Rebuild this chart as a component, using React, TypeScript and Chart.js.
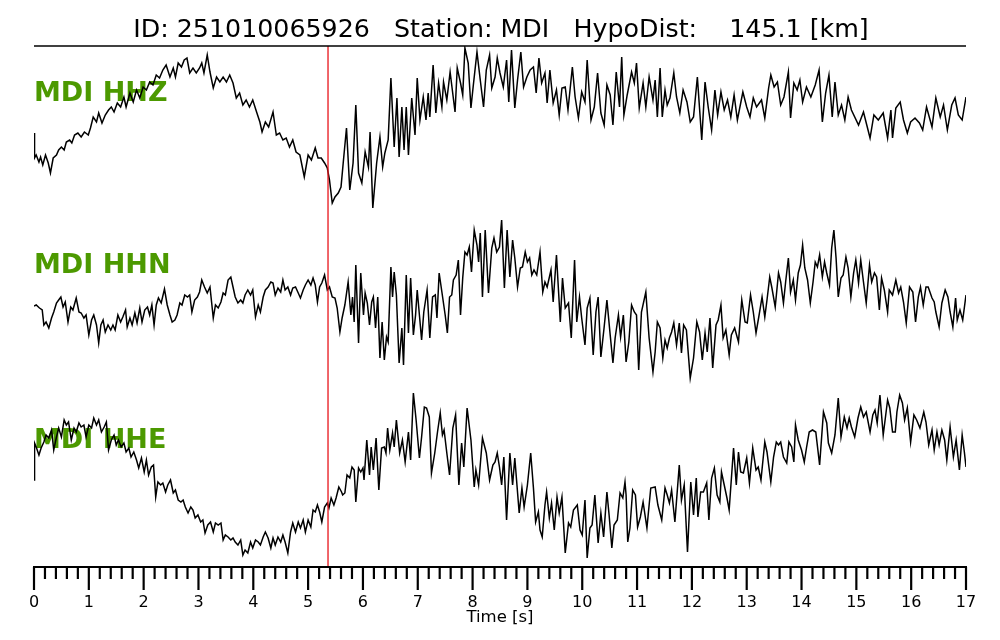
import React, { useEffect, useRef } from "react";
import { Chart, registerables } from "chart.js";

Chart.register(...registerables);

// ---------- Text / meta ----------
const TITLE = "ID: 251010065926   Station: MDI   HypoDist:    145.1 [km]";
const X_TITLE = "Time [s]";
const CHANNELS = ["MDI HHZ", "MDI HHN", "MDI HHE"];
const CHANNEL_OFFSETS = [439, 267, 92];
const PICK_TIME = 5.363;
const X_MIN = 0;
const X_MAX = 17;
const Y_MIN = 0;
const Y_MAX = 521;
const MAJOR_TICKS = [0, 1, 2, 3, 4, 5, 6, 7, 8, 9, 10, 11, 12, 13, 14, 15, 16, 17];
const MINOR_PER_MAJOR = 5;

// ---------- HHZ ----------
const hhzTime = [
  0.00, 0.01, 0.04, 0.09, 0.12, 0.16, 0.21, 0.26, 0.30, 0.35, 0.41, 0.45, 0.50, 0.55, 0.59, 0.65, 0.69, 0.74, 0.80, 0.86,
  0.92, 0.99, 1.03, 1.08, 1.14, 1.18, 1.24, 1.30, 1.36, 1.41, 1.46, 1.52, 1.58, 1.64, 1.68, 1.75, 1.81, 1.87, 1.93, 1.99,
  2.05, 2.11, 2.17, 2.23, 2.29, 2.35, 2.41, 2.48, 2.54, 2.58, 2.63, 2.69, 2.74, 2.79, 2.84, 2.90, 2.96, 3.02, 3.06, 3.10,
  3.16, 3.21, 3.27, 3.33, 3.39, 3.45, 3.51, 3.57, 3.63, 3.69, 3.75, 3.81, 3.87, 3.93, 3.99, 4.06, 4.12, 4.16, 4.22, 4.28,
  4.36, 4.42, 4.48, 4.54, 4.60, 4.66, 4.72, 4.78, 4.85, 4.93, 5.00, 5.06, 5.13, 5.18, 5.24, 5.30, 5.35, 5.39, 5.44, 5.49,
  5.55, 5.60, 5.64, 5.70, 5.76, 5.82, 5.87, 5.92, 5.98, 6.04, 6.10, 6.13, 6.18, 6.25, 6.31, 6.36, 6.40, 6.46, 6.51, 6.57,
  6.62, 6.66, 6.71, 6.75, 6.79, 6.83, 6.89, 6.95, 6.99, 7.04, 7.10, 7.15, 7.19, 7.22, 7.28, 7.33, 7.38, 7.44, 7.47, 7.53,
  7.59, 7.68, 7.72, 7.78, 7.82, 7.86, 7.92, 7.97, 8.01, 8.08, 8.14, 8.20, 8.25, 8.31, 8.35, 8.41, 8.45, 8.50, 8.56, 8.62,
  8.66, 8.71, 8.77, 8.82, 8.88, 8.93, 8.99, 9.05, 9.11, 9.16, 9.21, 9.26, 9.32, 9.36, 9.41, 9.47, 9.53, 9.58, 9.63, 9.69,
  9.74, 9.82, 9.87, 9.93, 9.99, 10.05, 10.09, 10.16, 10.22, 10.28, 10.34, 10.40, 10.45, 10.51, 10.56, 10.62, 10.68, 10.72, 10.76, 10.82,
  10.90, 10.95, 10.99, 11.04, 11.11, 11.16, 11.22, 11.29, 11.33, 11.37, 11.42, 11.46, 11.51, 11.55, 11.60, 11.67, 11.72, 11.78, 11.84, 11.91,
  11.97, 12.03, 12.10, 12.18, 12.24, 12.30, 12.36, 12.42, 12.47, 12.53, 12.59, 12.65, 12.71, 12.77, 12.83, 12.93, 13.00, 13.06, 13.12, 13.18,
  13.27, 13.33, 13.40, 13.44, 13.50, 13.56, 13.62, 13.68, 13.76, 13.80, 13.86, 13.92, 13.97, 14.02, 14.09, 14.17, 14.25, 14.32, 14.38, 14.44,
  14.50, 14.56, 14.61, 14.67, 14.73, 14.79, 14.85, 14.91, 15.04, 15.13, 15.25, 15.32, 15.40, 15.49, 15.57, 15.63, 15.66, 15.72, 15.80, 15.86,
  15.93, 15.99, 16.07, 16.15, 16.21, 16.28, 16.38, 16.45, 16.53, 16.59, 16.66, 16.74, 16.80, 16.86, 16.93, 17.00,
];
const hhzAmp = [
  -5, -30, -27, -34, -29, -37, -27, -35, -45, -30, -27, -22, -19, -22, -14, -12, -15, -7, -5, -9,
  -4, -7, 0, 11, 6, 15, 5, 13, 18, 21, 16, 25, 21, 31, 21, 35, 26, 38, 30, 41,
  38, 46, 43, 53, 50, 58, 63, 51, 60, 51, 65, 61, 68, 70, 55, 60, 55, 60, 65, 55,
  73, 56, 40, 51, 46, 51, 46, 53, 45, 30, 35, 23, 28, 21, 28, 16, 6, -4, 6, 1,
  16, -7, -5, -12, -10, -19, -12, -24, -27, -49, -27, -32, -20, -30, -30, -35, -40, -52, -75, -69,
  -65, -59, -35, 0, -62, -35, 23, -45, -55, -24, -39, -4, -80, -35, -9, -39, -25, -12, 50, -19,
  30, -29, 21, -22, 21, -27, 30, -7, 50, 8, 31, 8, 35, 11, 63, 15, 45, 21, 46, 28,
  56, 16, 60, 45, 33, 80, 65, 20, 41, 76, 48, 21, 58, 73, 40, 51, 70, 55, 41, 68,
  26, 78, 20, 48, 76, 41, 51, 58, 61, 35, 70, 45, 55, 25, 58, 25, 38, 13, 40, 41,
  18, 61, 31, 10, 36, 26, 68, 8, 21, 55, 15, 3, 43, 33, 3, 56, 21, 71, 13, 33,
  56, 45, 65, 20, 45, 21, 51, 28, 48, 11, 60, 11, 38, 23, 30, 55, 31, 15, 38, 26,
  6, 11, 51, -12, 46, 20, -2, 38, 13, 36, 18, 28, 11, 33, 8, 36, 21, 11, 30, 21,
  28, 10, 40, 53, 41, 46, 23, 31, 56, 10, 45, 38, 48, 26, 41, 31, 43, 58, 6, 35,
  53, 11, 46, 13, 23, 8, 31, 18, 3, 16, -10, 13, 8, 15, -10, 18, -10, 20, 26, 8,
  -5, 6, 10, 5, -2, 21, 1, 30, 11, 23, -2, 23, 30, 13, 8, 31,
];

// ---------- HHN ----------
const hhnTime = [
  0.00, 0.04, 0.10, 0.15, 0.18, 0.22, 0.27, 0.32, 0.36, 0.41, 0.45, 0.49, 0.53, 0.57, 0.62, 0.67, 0.71, 0.77, 0.82, 0.86,
  0.91, 0.95, 1.00, 1.05, 1.09, 1.14, 1.18, 1.22, 1.26, 1.30, 1.35, 1.40, 1.44, 1.48, 1.53, 1.58, 1.62, 1.67, 1.70, 1.75,
  1.79, 1.84, 1.88, 1.93, 1.97, 2.02, 2.07, 2.11, 2.15, 2.19, 2.23, 2.27, 2.32, 2.38, 2.43, 2.48, 2.52, 2.57, 2.61, 2.66,
  2.70, 2.75, 2.80, 2.84, 2.88, 2.93, 2.98, 3.02, 3.06, 3.11, 3.16, 3.21, 3.27, 3.31, 3.36, 3.41, 3.45, 3.49, 3.54, 3.59,
  3.63, 3.67, 3.72, 3.77, 3.81, 3.85, 3.90, 3.95, 3.99, 4.04, 4.09, 4.13, 4.18, 4.22, 4.27, 4.32, 4.36, 4.40, 4.45, 4.50,
  4.54, 4.58, 4.63, 4.68, 4.72, 4.77, 4.82, 4.86, 4.91, 4.95, 5.00, 5.05, 5.09, 5.13, 5.17, 5.21, 5.25, 5.30, 5.35, 5.39,
  5.44, 5.49, 5.53, 5.58, 5.62, 5.67, 5.73, 5.78, 5.81, 5.84, 5.87, 5.92, 5.96, 6.01, 6.04, 6.08, 6.12, 6.16, 6.19, 6.23,
  6.27, 6.31, 6.35, 6.39, 6.43, 6.46, 6.51, 6.54, 6.57, 6.61, 6.66, 6.71, 6.74, 6.79, 6.83, 6.87, 6.92, 6.96, 6.99, 7.03,
  7.07, 7.11, 7.17, 7.22, 7.27, 7.32, 7.35, 7.39, 7.44, 7.50, 7.54, 7.58, 7.62, 7.65, 7.70, 7.74, 7.78, 7.82, 7.86, 7.90,
  7.94, 7.98, 8.03, 8.08, 8.11, 8.14, 8.18, 8.23, 8.29, 8.35, 8.39, 8.44, 8.49, 8.53, 8.58, 8.63, 8.68, 8.73, 8.77, 8.82,
  8.87, 8.91, 8.96, 9.00, 9.04, 9.08, 9.12, 9.17, 9.23, 9.28, 9.32, 9.36, 9.43, 9.47, 9.53, 9.60, 9.64, 9.69, 9.75, 9.80,
  9.86, 9.90, 9.95, 9.99, 10.05, 10.09, 10.14, 10.20, 10.25, 10.29, 10.34, 10.40, 10.45, 10.51, 10.56, 10.60, 10.66, 10.70, 10.75, 10.80,
  10.85, 10.90, 10.95, 10.99, 11.03, 11.08, 11.16, 11.22, 11.29, 11.33, 11.37, 11.42, 11.47, 11.51, 11.55, 11.59, 11.63, 11.67, 11.72, 11.77,
  11.81, 11.85, 11.90, 11.97, 12.03, 12.09, 12.14, 12.19, 12.24, 12.28, 12.33, 12.38, 12.44, 12.48, 12.53, 12.57, 12.62, 12.68, 12.72, 12.78,
  12.85, 12.91, 12.97, 13.01, 13.07, 13.12, 13.17, 13.22, 13.28, 13.33, 13.37, 13.42, 13.46, 13.52, 13.58, 13.62, 13.67, 13.71, 13.76, 13.80,
  13.85, 13.89, 13.94, 13.98, 14.02, 14.06, 14.11, 14.16, 14.21, 14.25, 14.29, 14.33, 14.38, 14.42, 14.46, 14.51, 14.55, 14.59, 14.63, 14.67,
  14.72, 14.76, 14.81, 14.85, 14.90, 14.95, 14.99, 15.04, 15.08, 15.13, 15.18, 15.24, 15.28, 15.33, 15.37, 15.42, 15.46, 15.51, 15.57, 15.60,
  15.66, 15.72, 15.77, 15.81, 15.86, 15.91, 15.97, 16.03, 16.08, 16.13, 16.17, 16.22, 16.27, 16.31, 16.38, 16.42, 16.45, 16.51, 16.56, 16.62,
  16.67, 16.71, 16.76, 16.81, 16.84, 16.89, 16.94, 17.00,
];
const hhnAmp = [
  -6, -5, -8, -10, -25, -22, -28, -18, -12, -3, 0, 3, -7, -2, -22, -7, -10, 2, -12, -13,
  -18, -15, -35, -20, -15, -25, -43, -25, -20, -32, -25, -30, -25, -30, -15, -22, -17, -10, -27, -18,
  -25, -13, -23, -8, -22, -10, -7, -15, -5, -25, -5, 2, -3, 11, -5, -15, -22, -20, -15, -3,
  -5, 5, 3, 5, -12, 0, 3, 8, 20, 13, 7, 13, -18, -5, -8, -2, 7, 5, 20, 23,
  13, 3, -3, 0, -3, 5, 10, 5, 10, -17, -5, -12, 3, 10, 13, 18, 17, 5, 12, 8,
  20, 10, 13, 5, 12, 13, 7, 2, 10, 15, 20, 15, 22, 15, -2, 13, 17, 25, 10, 13,
  3, 2, -8, -32, -18, -5, 18, -15, 3, -22, 35, -43, 27, -15, 7, -3, -25, -2, 3, -28,
  3, -58, -22, -60, -37, -42, 33, 3, 28, 5, -63, -28, -65, 25, -33, 22, -35, -15, 10, -15,
  -40, -12, 10, -38, 3, 5, -18, 27, 8, -15, -33, 3, 5, 20, 25, 40, -15, 22, 48, 45,
  53, 28, 70, 55, 38, 67, 3, 70, 7, 52, 62, 48, 53, 80, 12, 70, 23, 60, 42, 13,
  32, 33, 48, 38, 42, 25, 30, 25, 48, 8, 18, 13, 30, -2, 45, -22, 22, -8, -3, -38,
  40, -22, 3, -18, -45, -8, 2, -55, -12, 3, -57, -27, 0, -35, -63, -38, -15, -37, -15, -62,
  -42, -5, -12, -15, -70, -12, 8, -38, -72, -52, -22, -28, -58, -40, -48, -38, -32, -23, -45, -23,
  -53, -25, -30, -78, -58, -22, -32, -60, -33, -52, -18, -68, -25, -20, -5, -38, -30, -55, -35, -28,
  -42, 0, -22, -23, 5, -12, -33, -17, 3, -17, 0, 23, 12, -7, 27, 18, -3, 18, 42, 8,
  20, 0, 27, 35, 55, 32, 20, -3, 18, 38, 33, 45, 23, 38, 27, 15, 52, 70, 42, 3,
  22, 25, 43, 32, 3, 27, 40, 17, 40, 18, -3, 35, 18, 27, 23, -10, 22, 10, -12, 10,
  5, 20, 7, 13, -2, -23, 13, 8, -22, 3, 13, -5, 13, 13, 2, -2, -12, -27, -3, 10,
  3, -12, -27, 2, -20, -10, -20, 5,
];

// ---------- HHE ----------
const hheTime = [
  0.00, 0.01, 0.04, 0.09, 0.13, 0.18, 0.22, 0.27, 0.32, 0.36, 0.41, 0.45, 0.50, 0.55, 0.59, 0.63, 0.68, 0.73, 0.77, 0.82,
  0.86, 0.91, 0.95, 1.00, 1.05, 1.09, 1.14, 1.18, 1.23, 1.28, 1.32, 1.36, 1.41, 1.46, 1.50, 1.54, 1.59, 1.64, 1.68, 1.73,
  1.77, 1.82, 1.87, 1.91, 1.96, 2.01, 2.05, 2.09, 2.14, 2.18, 2.22, 2.26, 2.31, 2.35, 2.40, 2.44, 2.49, 2.54, 2.58, 2.63,
  2.68, 2.72, 2.76, 2.81, 2.86, 2.90, 2.94, 2.99, 3.04, 3.08, 3.12, 3.17, 3.22, 3.27, 3.31, 3.36, 3.41, 3.45, 3.49, 3.54,
  3.59, 3.63, 3.67, 3.72, 3.77, 3.81, 3.85, 3.90, 3.95, 3.99, 4.04, 4.09, 4.13, 4.18, 4.22, 4.27, 4.32, 4.36, 4.40, 4.45,
  4.50, 4.54, 4.58, 4.63, 4.68, 4.72, 4.77, 4.82, 4.86, 4.91, 4.95, 5.00, 5.05, 5.09, 5.13, 5.17, 5.21, 5.25, 5.30, 5.35,
  5.38, 5.42, 5.47, 5.51, 5.56, 5.61, 5.63, 5.67, 5.71, 5.76, 5.80, 5.84, 5.87, 5.92, 5.96, 6.00, 6.02, 6.07, 6.12, 6.15,
  6.19, 6.24, 6.29, 6.34, 6.39, 6.42, 6.45, 6.49, 6.54, 6.57, 6.61, 6.67, 6.72, 6.77, 6.83, 6.87, 6.92, 6.97, 7.03, 7.07,
  7.12, 7.16, 7.21, 7.25, 7.31, 7.36, 7.41, 7.45, 7.48, 7.53, 7.58, 7.64, 7.69, 7.75, 7.80, 7.84, 7.90, 7.97, 8.03, 8.06,
  8.11, 8.18, 8.25, 8.31, 8.37, 8.41, 8.45, 8.49, 8.53, 8.57, 8.62, 8.68, 8.73, 8.77, 8.85, 8.90, 8.94, 9.00, 9.06, 9.11,
  9.15, 9.20, 9.23, 9.27, 9.32, 9.35, 9.40, 9.44, 9.49, 9.54, 9.58, 9.63, 9.69, 9.75, 9.79, 9.84, 9.91, 9.96, 10.00, 10.05,
  10.09, 10.14, 10.18, 10.23, 10.29, 10.34, 10.39, 10.45, 10.49, 10.54, 10.58, 10.64, 10.69, 10.74, 10.78, 10.80, 10.83, 10.87, 10.92, 10.97,
  11.01, 11.06, 11.11, 11.18, 11.25, 11.33, 11.38, 11.45, 11.51, 11.55, 11.59, 11.63, 11.69, 11.77, 11.81, 11.86, 11.92, 11.98, 12.03, 12.08,
  12.11, 12.16, 12.21, 12.27, 12.31, 12.36, 12.41, 12.46, 12.51, 12.54, 12.59, 12.64, 12.68, 12.76, 12.81, 12.85, 12.89, 12.94, 13.00, 13.05,
  13.11, 13.17, 13.21, 13.26, 13.33, 13.37, 13.44, 13.49, 13.54, 13.58, 13.62, 13.67, 13.73, 13.77, 13.82, 13.86, 13.89, 13.94, 14.00, 14.05,
  14.09, 14.14, 14.20, 14.26, 14.33, 14.40, 14.46, 14.49, 14.55, 14.61, 14.67, 14.72, 14.78, 14.83, 14.87, 14.91, 14.97, 15.03, 15.08, 15.13,
  15.18, 15.25, 15.30, 15.34, 15.38, 15.43, 15.49, 15.57, 15.61, 15.66, 15.71, 15.74, 15.79, 15.84, 15.88, 15.93, 15.99, 16.05, 16.10, 16.16,
  16.23, 16.27, 16.32, 16.38, 16.42, 16.47, 16.51, 16.56, 16.61, 16.65, 16.71, 16.77, 16.82, 16.88, 16.93, 16.97, 17.00,
];
const hheAmp = [
  -5, 32, 28, 20, 27, 33, 40, 37, 45, 25, 38, 47, 38, 55, 50, 53, 35, 47, 43, 52,
  48, 50, 38, 50, 47, 57, 50, 55, 43, 48, 53, 25, 35, 40, 30, 35, 28, 32, 23, 27,
  18, 23, 15, 7, 17, 3, 15, 0, 8, 10, -22, -7, -10, -8, -17, -10, -5, -18, -15, -25,
  -27, -25, -32, -38, -32, -35, -43, -40, -47, -45, -58, -50, -47, -57, -48, -50, -48, -65, -60, -62,
  -65, -63, -67, -70, -65, -80, -75, -78, -67, -73, -65, -67, -70, -62, -57, -63, -73, -63, -70, -62,
  -67, -60, -67, -78, -57, -48, -57, -47, -53, -45, -57, -45, -52, -35, -37, -30, -37, -47, -32, -28,
  -33, -23, -30, -23, -12, -17, -20, -18, 0, -3, 8, 5, -27, 7, 3, 7, -5, 35, 0, 28,
  5, 37, -15, 27, 28, 22, 47, 25, 42, 28, 55, 22, 35, 13, 43, 15, 82, 55, 17, 38,
  68, 67, 58, 2, 22, 43, 62, 40, 45, 22, 0, 47, 60, -10, 32, 8, 67, 35, -12, 5,
  -10, 37, 22, -5, 10, 13, 22, 8, -10, 18, -45, 22, -10, 17, -38, -13, -32, -10, 22, -13,
  -47, -37, -55, -62, -30, -17, -43, -28, -55, -22, -38, -22, -78, -48, -52, -35, -30, -55, -60, -25,
  -83, -53, -50, -20, -68, -38, -62, -17, -40, -73, -50, -45, -18, -23, -7, -20, -67, -53, -15, -20,
  -52, -42, -27, -53, -13, -12, -30, -45, -13, -20, -28, -15, -47, 10, -25, -10, -77, -7, -40, -3,
  -42, -17, -17, -8, -45, -3, 7, -20, -27, 3, -10, -23, -35, 27, -10, 23, 3, 2, 17, -8,
  27, 5, 8, -5, 33, 23, -7, 18, 33, 30, 33, 18, 12, 33, 28, 13, 50, 35, 25, 13,
  27, 43, 45, 43, 10, 63, 52, 32, 22, 40, 77, 38, 58, 47, 57, 48, 38, 57, 68, 58,
  63, 43, 60, 65, 52, 80, 40, 75, 67, 43, 43, 63, 80, 72, 55, 67, 33, 60, 55, 47,
  63, 53, 30, 45, 25, 43, 30, 45, 35, 15, 48, 18, 35, 5, 40, 23, 8,
];

const TRACE_TIMES = [hhzTime, hhnTime, hheTime];
const TRACE_AMPS = [hhzAmp, hhnAmp, hheAmp];

const FONT = '"DejaVu Sans", "Liberation Sans", sans-serif';
const GREEN = "#4c9900";

const overlayPlugin = {
  id: "seisOverlay",
  beforeDatasetsDraw(chart: any) {
    const { ctx, chartArea } = chart;
    const yScale = chart.scales.y;
    ctx.save();
    ctx.fillStyle = GREEN;
    ctx.font = `bold 27px ${FONT}`;
    ctx.textAlign = "left";
    ctx.textBaseline = "alphabetic";
    CHANNELS.forEach((name, i) => {
      const yPix = yScale.getPixelForValue(CHANNEL_OFFSETS[i] + 27);
      ctx.fillText(name, chartArea.left, yPix);
    });
    ctx.restore();
  },
  afterDatasetsDraw(chart: any) {
    const { ctx, chartArea } = chart;
    const xScale = chart.scales.x;
    const { left, right, top, bottom } = chartArea;
    ctx.save();

    // pick line
    const px = xScale.getPixelForValue(PICK_TIME);
    ctx.strokeStyle = "#e8141a";
    ctx.lineWidth = 1.3;
    ctx.beginPath();
    ctx.moveTo(px, top);
    ctx.lineTo(px, bottom);
    ctx.stroke();

    // top spine
    ctx.strokeStyle = "#000";
    ctx.lineWidth = 1.4;
    ctx.beginPath();
    ctx.moveTo(left, top);
    ctx.lineTo(right, top);
    ctx.stroke();

    // bottom axis line
    ctx.lineWidth = 2.2;
    ctx.beginPath();
    ctx.moveTo(left - 1, bottom);
    ctx.lineTo(right + 1, bottom);
    ctx.stroke();

    // ticks
    ctx.lineWidth = 2.2;
    for (let m = 0; m < MAJOR_TICKS.length; m++) {
      const v = MAJOR_TICKS[m];
      const xp = xScale.getPixelForValue(v);
      ctx.beginPath();
      ctx.moveTo(xp, bottom);
      ctx.lineTo(xp, bottom + 23);
      ctx.stroke();
      if (m < MAJOR_TICKS.length - 1) {
        const step = (MAJOR_TICKS[m + 1] - v) / MINOR_PER_MAJOR;
        for (let k = 1; k < MINOR_PER_MAJOR; k++) {
          const xm = xScale.getPixelForValue(v + k * step);
          ctx.beginPath();
          ctx.moveTo(xm, bottom);
          ctx.lineTo(xm, bottom + 12);
          ctx.stroke();
        }
      }
    }

    // tick labels
    ctx.fillStyle = "#000";
    ctx.font = `16px ${FONT}`;
    ctx.textAlign = "center";
    ctx.textBaseline = "alphabetic";
    MAJOR_TICKS.forEach((v) => {
      ctx.fillText(String(v), xScale.getPixelForValue(v), bottom + 40);
    });

    // axis title
    ctx.font = `16.5px ${FONT}`;
    ctx.fillText(X_TITLE, (left + right) / 2, bottom + 55);

    // main title
    ctx.font = `25.3px ${FONT}`;
    ctx.fillText(TITLE, 501, 37);

    ctx.restore();
  },
};

export default function App() {
  const canvasRef = useRef<HTMLCanvasElement | null>(null);

  useEffect(() => {
    const canvas = canvasRef.current;
    if (!canvas) return;
    const datasets = TRACE_TIMES.map((times, i) => ({
      label: CHANNELS[i],
      data: times.map((t, j) => ({ x: t, y: CHANNEL_OFFSETS[i] + TRACE_AMPS[i][j] })),
      borderColor: "#000",
      borderWidth: 1.5,
      pointRadius: 0,
      tension: 0,
      fill: false,
    }));
    const chart = new Chart(canvas, {
      type: "line",
      data: { datasets },
      options: {
        animation: false,
        responsive: false,
        devicePixelRatio: 1,
        layout: { padding: { left: 34, right: 34, top: 46, bottom: 73 } },
        scales: {
          x: { type: "linear", min: X_MIN, max: X_MAX, display: false },
          y: { type: "linear", min: Y_MIN, max: Y_MAX, display: false },
        },
        plugins: {
          legend: { display: false },
          tooltip: { enabled: false },
          title: { display: false },
        },
      },
      plugins: [overlayPlugin],
    } as any);
    return () => chart.destroy();
  }, []);

  return (
    <div style={{ position: "absolute", left: 0, top: 0, width: 1000, height: 640, background: "#fff" }}>
      <canvas ref={canvasRef} width={1000} height={640} style={{ width: 1000, height: 640, display: "block" }} />
    </div>
  );
}
